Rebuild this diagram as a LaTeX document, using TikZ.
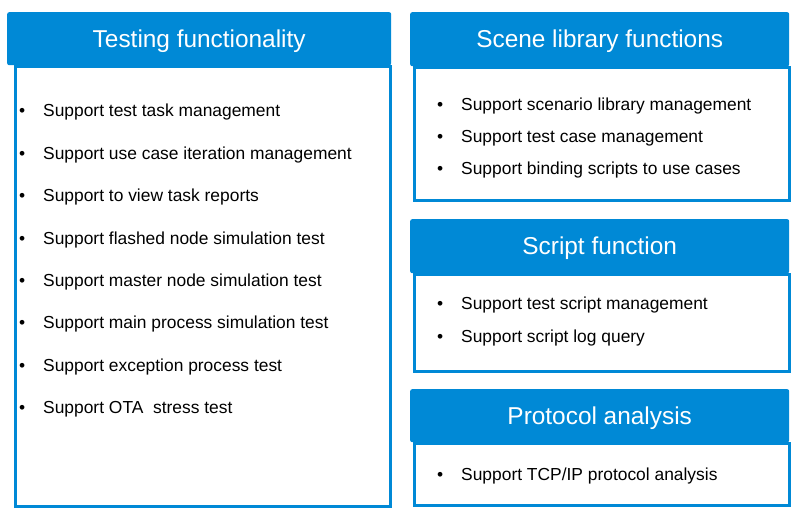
\documentclass[tikz,border=0pt]{standalone}
\usepackage{fontspec}
\setmainfont{Liberation Sans}
\usepackage{tikz}
\usetikzlibrary{positioning}
\definecolor{panel_blue}{RGB}{0,137,214}
\tikzset{
  title_font/.style = {font=\fontsize{24.4}{28}\selectfont},
  item_font/.style = {font=\fontsize{17.4}{20}\selectfont},
  left_size/.style = {minimum width=384},
  right_size/.style = {minimum width=379}
}
\tikzset{
  header/.style = {title_font, text=white, fill=panel_blue, rounded corners=2, minimum height=53, inner sep=0, text height=17.4, text depth=0, anchor=north west},
  panel/.style = {draw=panel_blue, line width=3, inner sep=0},
  item/.style = {item_font, anchor=west, inner sep=0, text height=12, text depth=4}
}
\tikzset{
  keep_left/.style={anchor=north west},
  spaced/.style={yshift=-26},
  close/.style={yshift=-15.5},
  close_b/.style={yshift=-16}
}
\newcommand{\bitem}[1]{\makebox[24pt][l]{\textbullet}#1}

\begin{document}
\begin{tikzpicture}[x=1pt, y=1pt, node distance=0]
    \useasboundingbox (0,0) rectangle (800,-518);

    % Bodies
    \coordinate (tf_top) at (7,-12);
    \coordinate (sl_top) at (410,-12);
    \coordinate (sf_top) at (410,-219);
    \coordinate (pa_top) at (410,-389);
    \node[panel, keep_left, minimum width=375.5, minimum height=440] at (13.5,-65) (tf_body) {};
    \node[panel, keep_left, minimum width=374.5, minimum height=133.5] at (413,-66) (sl_body) {};
    \node[panel, keep_left, minimum width=374.5, minimum height=97] at (413,-273) (sf_body) {};
    \node[panel, keep_left, minimum width=374.5, minimum height=62] at (413,-442) (pa_body) {};

    % Headers
    \node[header, left_size] at (tf_top) (tf) {Testing functionality};
    \node[header, right_size, minimum height=54] at (sl_top) (sl) {Scene library functions};
    \node[header, right_size, minimum height=54] at (sf_top) (sf) {Script function};
    \node[header, right_size] at (pa_top) (pa) {Protocol analysis};

    % Testing functionality items
    \node[item] at (19,-113) (tf_1) {\bitem{Support test task management}};
    \node[item, keep_left, spaced] at (tf_1.south west) (tf_2) {\bitem{Support use case iteration management}};
    \node[item, keep_left, spaced] at (tf_2.south west) (tf_3) {\bitem{Support to view task reports}};
    \node[item, keep_left, spaced] at (tf_3.south west) (tf_4) {\bitem{Support flashed node simulation test}};
    \node[item, keep_left, spaced] at (tf_4.south west) (tf_5) {\bitem{Support master node simulation test}};
    \node[item, keep_left, spaced] at (tf_5.south west) (tf_6) {\bitem{Support main process simulation test}};
    \node[item, keep_left, spaced] at (tf_6.south west) (tf_7) {\bitem{Support exception process test}};
    \node[item, keep_left, spaced] at (tf_7.south west) (tf_8) {\bitem{Support OTA\ \ stress test}};

    % Scene library items
    \node[item] at (437,-107) (sl_1) {\bitem{Support scenario library management}};
    \node[item, keep_left, close] at (sl_1.south west) (sl_2) {\bitem{Support test case management}};
    \node[item, keep_left, close] at (sl_2.south west) (sl_3) {\bitem{Support binding scripts to use cases}};

    % Script function items
    \node[item] at (437,-306) (sf_1) {\bitem{Support test script management}};
    \node[item, keep_left, close_b] at (sf_1.south west) (sf_2) {\bitem{Support script log query}};

    % Protocol analysis items
    \node[item] at (437,-476) (pa_1) {\bitem{Support TCP/IP protocol analysis}};
\end{tikzpicture}
\end{document}
